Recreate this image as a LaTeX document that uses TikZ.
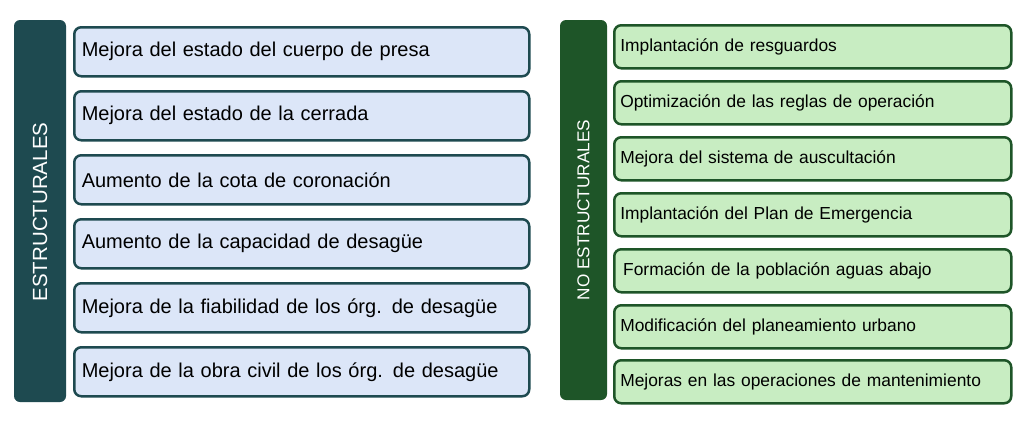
\documentclass[tikz,border=0pt]{standalone}
\usepackage{fontspec}
\setmainfont{Liberation Sans}
\definecolor{lbar}{HTML}{1E4A50}
\definecolor{lfill}{HTML}{DCE6F8}
\definecolor{gbar}{HTML}{1E5528}
\definecolor{gfill}{HTML}{C8EDC2}
\tikzset{
 lbox/.style={draw=lbar,line width=2.5pt,fill=lfill,rounded corners=7pt,minimum width=455pt,minimum height=49pt,anchor=north west,text width=440pt,align=left,font=\fontsize{20}{23}\selectfont},
 gbox/.style={draw=gbar,line width=2.5pt,fill=gfill,rounded corners=7pt,minimum width=397pt,minimum height=43pt,anchor=north west,text width=385pt,align=left,font=\fontsize{17.4}{20}\selectfont},
 barl/.style={fill=lbar,rounded corners=6pt},
 barg/.style={fill=gbar,rounded corners=6pt}
}
\begin{document}
\begin{tikzpicture}[x=1pt,y=-1pt]
\useasboundingbox (0,0) rectangle (1024,423);
\fill[white] (0,0) rectangle (1024,423);
\fill[barl] (14,20) rectangle (66,402);
\node[rotate=90,text=white,font=\fontsize{20.5}{23}\selectfont] (lt) at (40,212) {ESTRUCTURALES};
\fill[barg] (560,20) rectangle (607,400);
\node[rotate=90,text=white,font=\fontsize{17.2}{20}\selectfont] (gt) at (583.5,210) {NO ESTRUCTURALES};
\node[lbox] (l1) at (73,26) {Mejora del estado del cuerpo de presa};
\node[lbox] (l2) at (73,90) {Mejora del estado de la cerrada};
\node[lbox] (l3) at (73,154) {Aumento de la cota de coronación};
\node[lbox] (l4) at (73,218) {Aumento de la capacidad de desagüe};
\node[lbox] (l5) at (73,282) {Mejora de la fiabilidad de los órg. de desagüe};
\node[lbox] (l6) at (73,346) {Mejora de la obra civil de los órg. de desagüe};
\node[gbox] (g1) at (613,24) {Implantación de resguardos};
\node[gbox] (g2) at (613,80) {Optimización de las reglas de operación};
\node[gbox] (g3) at (613,136) {Mejora del sistema de auscultación};
\node[gbox] (g4) at (613,192) {Implantación del Plan de Emergencia};
\node[gbox] (g5) at (613,248) {\,Formación de la población aguas abajo};
\node[gbox] (g6) at (613,304) {Modificación del planeamiento urbano};
\node[gbox] (g7) at (613,359) {Mejoras en las operaciones de mantenimiento};
\end{tikzpicture}
\end{document}
